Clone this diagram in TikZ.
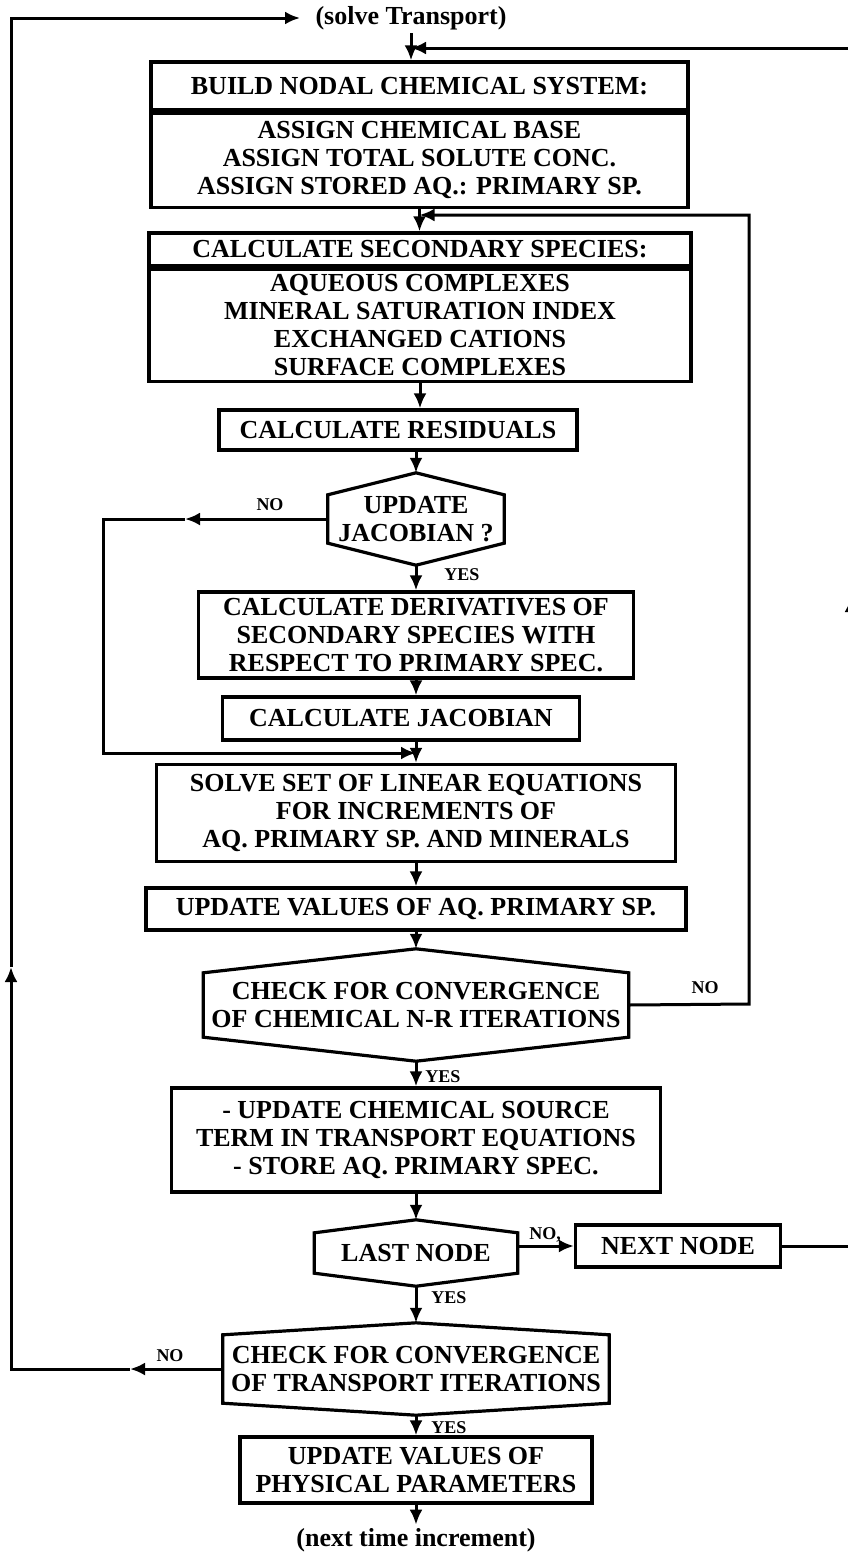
\documentclass[tikz,border=0pt]{standalone}
\usepackage{fontspec}
\setmainfont{Liberation Serif}
\usepackage{tikz}
\usetikzlibrary{arrows.meta,positioning}

\newcommand{\boxfont}{\bfseries\fontsize{26}{28}\selectfont}
\newcommand{\hexframe}[2]{%
  \draw[line width=3.2pt] (#1.north west) -- ([yshift=#2]#1.north) coordinate (#1-top)
    -- (#1.north east) -- (#1.south east) -- ([yshift=-#2]#1.south) coordinate (#1-bot)
    -- (#1.south west) -- cycle;}

\tikzset{
  box/.style 2 args={draw, line width=3.2pt, align=center, inner sep=0pt,
    minimum width=#1, minimum height=#2, font=\boxfont},
  hexbox/.style 2 args={align=center, inner sep=0pt,
    minimum width=#1, minimum height=#2, font=\boxfont},
  plain/.style={font=\boxfont},
  lbl/.style={font=\bfseries\fontsize{18}{18}\selectfont},
  flow/.style={line width=3pt, -{Latex[length=15pt,width=13pt]}},
}

\begin{document}
\begin{tikzpicture}[x=1pt,y=-1pt]
\useasboundingbox (0,0) rectangle (848,1553);

\node[plain] (st) at (411,18) {(solve Transport)};
\node[box={537pt}{48pt}] (b1h) at (419.5,86) {BUILD NODAL CHEMICAL SYSTEM:};
\node[box={537pt}{94pt}, below=0pt of b1h] (b1b) {ASSIGN CHEMICAL BASE\\ASSIGN TOTAL SOLUTE CONC.\\ASSIGN STORED AQ.: PRIMARY SP.};
\node[box={542pt}{33pt}] (b2h) at (420,249.5) {CALCULATE SECONDARY SPECIES:};
\node[box={542pt}{112pt}, below=0pt of b2h] (b2b) {AQUEOUS COMPLEXES\\MINERAL SATURATION INDEX\\EXCHANGED CATIONS\\SURFACE COMPLEXES};
\node[box={358pt}{40pt}] (res) at (398,430) {CALCULATE RESIDUALS};
\node[hexbox={176pt}{48pt}] (upd) at (416,519) {UPDATE\\JACOBIAN ?};
\hexframe{upd}{22pt}
\node[box={435pt}{86pt}] (der) at (416,635) {CALCULATE DERIVATIVES OF\\SECONDARY SPECIES WITH\\RESPECT TO PRIMARY SPEC.};
\node[box={357pt}{43pt}] (jac) at (401,718.5) {CALCULATE JACOBIAN};
\node[box={519pt}{97pt}] (sol) at (416,813) {SOLVE SET OF LINEAR EQUATIONS\\FOR INCREMENTS OF\\AQ. PRIMARY SP. AND MINERALS};
\node[box={540pt}{42pt}] (upv) at (416,909) {UPDATE VALUES OF AQ. PRIMARY SP.};
\node[hexbox={425pt}{64pt}] (chk) at (416,1005) {CHECK FOR CONVERGENCE\\OF CHEMICAL N-R ITERATIONS};
\hexframe{chk}{24pt}
\node[box={489pt}{104pt}] (src) at (416,1140) {- UPDATE CHEMICAL SOURCE\\TERM IN TRANSPORT EQUATIONS\\- STORE AQ. PRIMARY SPEC.};
\node[hexbox={203pt}{40pt}] (last) at (416,1253) {LAST NODE};
\hexframe{last}{13pt}
\node[box={205pt}{42pt}] (nxt) at (678,1246) {NEXT NODE};
\node[hexbox={386pt}{68pt}] (trn) at (416,1369) {CHECK FOR CONVERGENCE\\OF TRANSPORT ITERATIONS};
\hexframe{trn}{12pt}
\node[box={352pt}{66pt}] (phy) at (416,1470) {UPDATE VALUES OF\\PHYSICAL PARAMETERS};
\node[plain] (nti) at (416,1540) {(next time increment)};

\coordinate (r1) at (851,1246);
\coordinate (r2) at (851,597);
\coordinate (r3) at (851,48);
\coordinate (c1) at (749,1004);
\coordinate (c2) at (749,215);
\coordinate (n1) at (185,519);
\coordinate (n2) at (103,519);
\coordinate (n3) at (103,753);
\coordinate (t1) at (130,1369);
\coordinate (t2) at (11,1369);
\coordinate (t3) at (11,967);
\coordinate (t4) at (11,18);

\draw[flow] (st.south) -- (st.south |- b1h.north);
\draw[flow] (b1b.south) -- (b1b.south |- b2h.north);
\draw[flow] (b2b.south) -- (b2b.south |- res.north);
\draw[flow] (upd-top |- res.south) -- (upd-top);
\draw[flow] (upd-bot) -- (der.north);
\draw[flow] (der.south) -- (der.south |- jac.north);
\draw[flow] (sol.north |- jac.south) -- (sol.north);
\draw[flow] (sol.south) -- (upv.north);
\draw[flow] (upv.south) -- (chk-top);
\draw[flow] (chk-bot) -- (src.north);
\draw[flow] (src.south) -- (last-top);
\draw[flow] (last-bot) -- (trn-top);
\draw[flow] (trn-bot) -- (phy.north);
\draw[flow] (phy.south) -- (nti.north);

\draw[flow] (upd.west) -- (n1);
\draw[flow] (n1) -- (n2) -- (n3) -- (n3 -| sol.north);
\draw[flow] (chk.east) -- (c1) -- (c2) -- (c2 -| b1b.south);
\draw[flow] (last.east |- nxt.west) -- (nxt.west);
\draw[flow] (nxt.east) -- (r1) -- (r2);
\draw[flow] (r2) -- (r3) -- (r3 -| st.south);
\draw[flow] (trn.west) -- (t1);
\draw[flow] (t1) -- (t2) -- (t3);
\draw[flow, shorten >=12pt] (t3) -- (t4) -- (st.west);

\node[lbl] at (270,505) {NO};
\node[lbl] at (462,575) {YES};
\node[lbl] at (705,988) {NO};
\node[lbl] at (443,1077) {YES};
\node[lbl] at (545,1235) {NO,};
\node[lbl] at (449,1298) {YES};
\node[lbl] at (170,1356) {NO};
\node[lbl] at (449,1428) {YES};
\end{tikzpicture}
\end{document}
